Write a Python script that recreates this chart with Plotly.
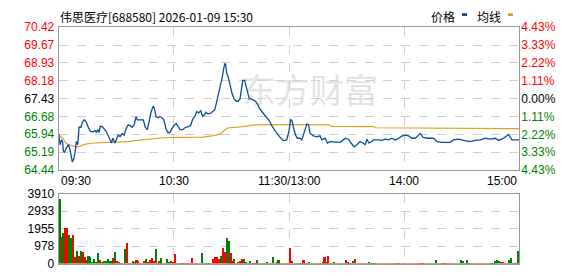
import plotly.graph_objects as go

# ---------------- data ----------------
title_text = "伟思医疗[688580] 2026-01-09 15:30"
legend_labels = ["价格", "均线"]
watermark_text = "东方财富"
time_ticks = [0, 60, 120, 180, 240]
time_labels = ["09:30", "10:30", "11:30/13:00", "14:00", "15:00"]
pre_close = 67.43
price_ticks = [64.44, 65.19, 65.94, 66.68, 67.43, 68.18, 68.93, 69.67, 70.42]
price_tick_labels = ["64.44", "65.19", "65.94", "66.68", "67.43", "68.18", "68.93", "69.67", "70.42"]
pct_ticks = [-4.43, -3.33, -2.22, -1.11, 0.0, 1.11, 2.22, 3.33, 4.43]
pct_tick_labels = ["4.43%", "3.33%", "2.22%", "1.11%", "0.00%", "1.11%", "2.22%", "3.33%", "4.43%"]
vol_ticks = [0, 978, 1955, 2933, 3910]
vol_tick_labels = ["0", "978", "1955", "2933", "3910"]

price_min = [0, 0.7, 1.5, 2, 2.4, 3, 3.6, 4.3, 5, 5.7, 6.4, 7.1, 7.8, 8.5, 9.2, 9.9, 10.2, 10.6, 11.6, 12.3,
             13.3, 14.3, 15.4, 16.5, 17.8, 18.9, 19.6, 20.3, 21, 21.7, 22.7, 23.7, 24.7, 25.8, 26.8, 27.5, 28.2,
             29.3, 30, 31, 32, 33.1, 34.1, 35.1, 36.2, 37.2, 38.2, 39.3, 40.3, 41, 42, 43.1, 44.1, 45.1, 46.2,
             47.2, 48.2, 49.3, 50, 50.7, 51.7, 52.7, 53.8, 54.8, 55.9, 56.9, 58, 59, 60, 61.2, 62.2, 63.2, 64.6,
             65.8, 67.5, 68.7, 69.8, 71, 71.9, 72.9, 74, 75, 76, 76.7, 77.8, 79.1, 80.2, 81.3, 82.3, 83.4, 84.4,
             85.1, 85.8, 86.5, 86.9, 87.6, 88.3, 89, 89.7, 90.4, 91.4, 92.5, 93.5, 94.5, 95.2, 95.9, 96.9, 97.6,
             98.3, 99.3, 100.4, 101.4, 102.5, 103.5, 104.5, 105.8, 107, 108.4, 109.8, 111, 112.2, 113.6, 115.3,
             117.1, 118.8, 119.9, 120.9, 121.6, 122.3, 123.4, 124.4, 125.8, 126.7, 128.4, 129.3, 130.2, 131,
             132.8, 134.5, 136.2, 137.1, 138.8, 140, 141.4, 144, 146.7, 149.3, 151, 152.3, 154, 155.4, 157,
             158.5, 159.7, 160.6, 161.6, 162.6, 164, 166.6, 168.4, 170.1, 171.9, 173.6, 175.4, 177.1, 178.8,
             180.5, 182.3, 184, 185.7, 187.5, 188.4, 189.8, 191.9, 195.3, 197.1, 199.7, 204, 205.7, 208.3, 211,
             214.4, 217, 219.7, 222.3, 224.9, 227.5, 229.2, 231.8, 234.4, 236.2, 238.8, 240]
price_val = [65.97, 65.50, 65.70, 65.63, 65.24, 65.17, 65.30, 65.43, 65.50, 65.37, 64.97, 64.77, 64.90, 65.17,
             65.63, 65.50, 65.77, 66.23, 66.23, 66.43, 66.54, 66.46, 66.23, 66.06, 66.03, 66.10, 66.01, 66.13,
             66.01, 66.27, 66.26, 66.17, 66.06, 65.87, 65.70, 65.57, 65.77, 65.57, 65.70, 65.90, 65.84, 65.97,
             65.90, 66.17, 66.33, 66.30, 66.23, 66.33, 66.67, 66.54, 66.54, 66.53, 66.54, 66.23, 66.13, 66.50,
             66.89, 67.12, 66.98, 66.67, 66.63, 66.67, 66.63, 66.54, 66.17, 66.01, 66.01, 66.17, 66.30, 66.39,
             66.23, 66.13, 66.13, 66.21, 66.26, 66.30, 66.56, 66.69, 66.89, 66.83, 66.92, 66.69, 66.76, 66.86,
             66.79, 66.81, 66.89, 66.96, 67.29, 67.69, 67.95, 68.28, 68.61, 68.88, 68.88, 68.48, 68.35, 68.09,
             67.95, 67.62, 67.42, 67.32, 67.32, 67.42, 67.82, 68.19, 68.19, 67.95, 67.72, 67.42, 67.42, 67.36,
             67.32, 67.22, 67.03, 66.89, 66.76, 66.63, 66.50, 66.30, 66.13, 65.99, 65.81, 65.67, 65.70, 66.03,
             66.56, 66.50, 66.23, 65.90, 65.77, 65.77, 65.70, 66.10, 66.37, 66.33, 65.97, 65.87, 65.83, 65.87,
             65.70, 65.77, 65.57, 65.63, 65.60, 65.60, 65.77, 65.73, 65.57, 65.41, 65.50, 65.63, 65.57, 65.50,
             65.73, 65.57, 65.60, 65.70, 65.70, 65.68, 65.73, 65.70, 65.77, 65.70, 65.77, 65.86, 65.90, 65.87,
             65.77, 65.77, 65.90, 65.97, 65.81, 65.77, 65.77, 65.63, 65.60, 65.60, 65.70, 65.73, 65.68, 65.63,
             65.68, 65.70, 65.77, 65.73, 65.77, 65.68, 65.77, 65.93, 65.70, 65.70, 65.70]

avg_min = [0, 2, 4, 6, 8, 10, 12, 14, 18, 24, 30, 36, 42, 48, 55, 62, 75, 80, 84, 86, 88, 96, 102, 120,
           141, 142, 164, 165, 213, 214, 240]
avg_val = [65.90, 65.77, 65.55, 65.48, 65.43, 65.41, 65.47, 65.52, 65.57, 65.59, 65.61, 65.63, 65.69, 65.74,
           65.79, 65.81, 65.82, 65.87, 65.94, 66.08, 66.20, 66.26, 66.33, 66.34, 66.33, 66.27, 66.26, 66.21,
           66.20, 66.17, 66.17]

volume = [3650, 1520, 1735, 2035, 2035, 1630, 1470, 1630, 390, 710,
          440, 710, 670, 390, 250, 440, 410, 140, 280, 105,
          600, 230, 105, 180, 180, 280, 180, 180, 340, 655,
          180, 124, 70, 70, 815, 1200, 70, 70, 177, 124,
          230, 177, 70, 70, 177, 283, 124, 230, 340, 177,
          850, 70, 177, 336, 70, 70, 283, 124, 177, 124,
          550, 70, 70, 70, 70, 70, 70, 70, 70, 336,
          70, 70, 70, 70, 600, 70, 70, 70, 70, 70,
          283, 390, 390, 283, 440, 870, 655, 1450, 1290, 600,
          177, 283, 70, 124, 177, 283, 283, 124, 70, 177,
          70, 70, 70, 230, 70, 70, 70, 70, 124, 70,
          70, 390, 70, 124, 230, 70, 70, 70, 70, 70,
          870, 177, 70, 70, 70, 70, 70, 230, 70, 70,
          124, 70, 70, 70, 70, 70, 70, 124, 390, 124,
          440, 70, 70, 124, 70, 70, 70, 70, 70, 230,
          124, 70, 70, 177, 283, 70, 70, 70, 70, 70,
          70, 124, 70, 70, 70, 70, 70, 70, 70, 70,
          70, 70, 70, 70, 70, 70, 70, 70, 70, 70,
          70, 70, 70, 70, 70, 70, 70, 70, 70, 70,
          70, 70, 70, 70, 70, 70, 230, 70, 70, 70,
          70, 70, 70, 70, 70, 70, 70, 70, 70, 230,
          177, 70, 230, 70, 70, 70, 70, 70, 70, 70,
          70, 70, 70, 70, 70, 70, 70, 177, 230, 177,
          124, 124, 70, 70, 230, 336, 70, 70, 70, 710]
vol_dir = ("GRGRRGGRRG" "RGRRGGGGGG" "GRGGGGGGRG" "RRGRGRRRGG" "RRRRRGGRRR" "GGRGRGGGRR"
           "RGGGRRRRRR" "RRRRGGGGGR" "RRRRGRRGGR" "RGGRRRGGGG" "RRRGRGGGGR" "GGRRGGGGRR"
           "RRGGGGGRRR" "GGGRRRRGRG" "RGGGRRGGGR" "RGGGRRRRRR" "GGRGRGRGRR" "GRRGRRRRGR"
           "RGRRRGRRRR" "RGRGRGGGRG" "RRGRRGGRGG" "GRGGRRGRRR" "RGRGGRGGGG" "RRRRGGRGRG")

# ---------------- styling ----------------
W, H = 578, 276
RED, GREEN, BLACK = "#ff0000", "#008000", "#000000"
PRICE_C, AVG_C = "#0a4d9c", "#e0a020"
GRID_C, BORDER_C = "#cfcfcf", "#999999"
FONT = "Arial, Liberation Sans, sans-serif"
CJK = "Noto Sans CJK SC"

def fx(p):
    return p / W

def fy(p):
    return 1 - p / H

def colored(txt, c):
    return f'<span style="color:{c}">{txt}</span>'

def level_color(v):
    if abs(v - pre_close) < 1e-6 or abs(v) < 1e-9 and v == 0:
        return BLACK
    return RED if v > pre_close else GREEN

price_text = [colored(t, BLACK if abs(v - pre_close) < 1e-6 else (RED if v > pre_close else GREEN))
              for v, t in zip(price_ticks, price_tick_labels)]
pct_text = [colored(t, BLACK if v == 0 else (RED if v > 0 else GREEN))
            for v, t in zip(pct_ticks, pct_tick_labels)]

x_dom = [fx(58.7), fx(519.3)]
main_dom = [fy(171.7), fy(21.3)]
vol_dom = [fy(270.3), fy(196.5)]

fig = go.Figure()

fig.add_trace(go.Scatter(x=avg_min, y=avg_val, mode="lines", line=dict(color=AVG_C, width=1.2),
                         xaxis="x", yaxis="y", hoverinfo="skip"))
fig.add_trace(go.Scatter(x=price_min, y=price_val, mode="lines", line=dict(color=PRICE_C, width=1.3),
                         xaxis="x", yaxis="y", hoverinfo="skip"))
fig.add_trace(go.Scatter(x=[0, 240], y=[pct_ticks[0], pct_ticks[-1]], mode="lines",
                         line=dict(width=0), opacity=0, xaxis="x", yaxis="y2", hoverinfo="skip"))

bar_x = [k + 0.5 for k in range(len(volume))]
bar_c = [RED if d == "R" else GREEN for d in vol_dir]
fig.add_trace(go.Bar(x=bar_x, y=volume, marker=dict(color=bar_c, line=dict(width=0)), width=0.85,
                     xaxis="x2", yaxis="y3", hoverinfo="skip"))

axis_common = dict(showline=True, mirror=True, linecolor=BORDER_C, linewidth=1, zeroline=False,
                   fixedrange=True)

fig.update_layout(
    width=W, height=H, margin=dict(l=0, r=0, t=0, b=0), autosize=False,
    paper_bgcolor="white", plot_bgcolor="white", showlegend=False, bargap=0,
    xaxis=dict(domain=x_dom, range=[0, 240], tickvals=time_ticks[1:4], showticklabels=False,
               showgrid=True, gridcolor=GRID_C, griddash="dash", gridwidth=1, ticks="",
               anchor="y", **axis_common),
    yaxis=dict(domain=main_dom, range=[price_ticks[0], price_ticks[-1]], tickvals=price_ticks,
               ticktext=price_text, showgrid=True, gridcolor=GRID_C, griddash="dash", ticks="",
               tickfont=dict(family=FONT, size=12), anchor="x", ticklabelstandoff=1, **axis_common),
    yaxis2=dict(overlaying="y", side="right", range=[pct_ticks[0], pct_ticks[-1]], tickvals=pct_ticks,
                ticktext=pct_text, showgrid=False, ticks="", zeroline=False, showline=False,
                tickfont=dict(family=FONT, size=12), anchor="x", ticklabelstandoff=1, fixedrange=True),
    xaxis2=dict(domain=x_dom, range=[0, 240], tickvals=time_ticks[1:4], showticklabels=False,
                showgrid=True, gridcolor=GRID_C, griddash="dash", ticks="", anchor="y3", **axis_common),
    yaxis3=dict(domain=vol_dom, range=[vol_ticks[0], vol_ticks[-1]], tickvals=vol_ticks,
                ticktext=vol_tick_labels, showgrid=True, gridcolor=GRID_C, griddash="dash", ticks="",
                tickfont=dict(family=FONT, size=12, color=BLACK), anchor="x2", ticklabelstandoff=1,
                **axis_common),
)

# watermark between grid and traces
fig.add_shape(type="rect", xref="paper", yref="paper", x0=fx(236), x1=fx(384), y0=fy(110), y1=fy(72),
              line=dict(width=0), fillcolor="rgba(0,0,0,0)", layer="between",
              label=dict(text=watermark_text, font=dict(family=CJK, size=34, color="#e3e3e3")))

# title
fig.add_annotation(text=title_text, xref="paper", yref="paper", x=fx(58), y=fy(10), xanchor="left",
                   yanchor="middle", showarrow=False, font=dict(family=CJK, size=12, color=BLACK))

# legend
leg_pos = [(443, 464.5, PRICE_C), (489, 510.5, AVG_C)]
for lab, (tx, mx, c) in zip(legend_labels, leg_pos):
    fig.add_annotation(text=lab, xref="paper", yref="paper", x=fx(tx), y=fy(10), xanchor="center",
                       yanchor="middle", showarrow=False, font=dict(family=CJK, size=12, color=BLACK))
    fig.add_shape(type="rect", xref="paper", yref="paper", x0=fx(mx - 2.5), x1=fx(mx + 2.5),
                  y0=fy(9.5), y1=fy(6.5), line=dict(width=0), fillcolor=c)

# time labels
for i, (t, lab) in enumerate(zip(time_ticks, time_labels)):
    anchor = "left" if i == 0 else ("right" if i == len(time_ticks) - 1 else "center")
    fig.add_annotation(text=lab, xref="x", yref="paper", x=t, y=fy(183), xanchor=anchor,
                       yanchor="middle", showarrow=False, font=dict(family=FONT, size=12, color=BLACK))

fig.write_html("out.html")
